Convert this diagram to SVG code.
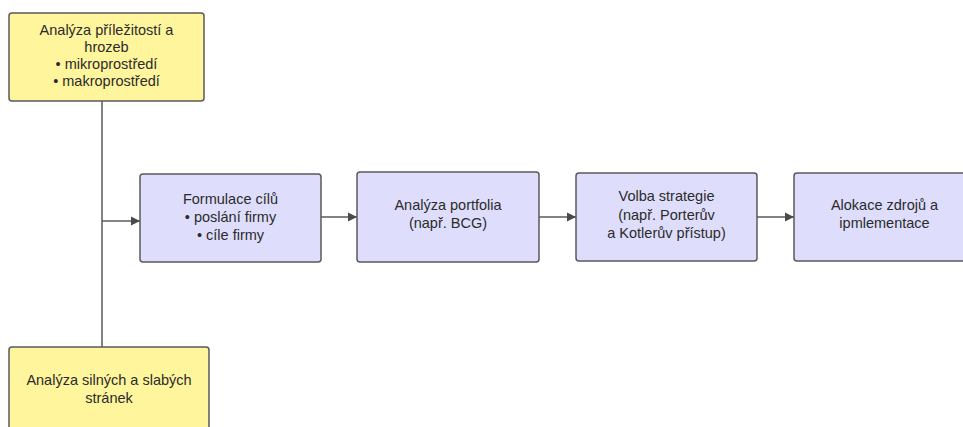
<svg xmlns="http://www.w3.org/2000/svg" width="963" height="427" viewBox="0 0 963 427">
<defs>
<style>
.y{fill:#fff59d;stroke:#5a5a5a;stroke-width:1.5}
.b{fill:#dedefc;stroke:#5a5a5a;stroke-width:1.5}
text{font-family:"Liberation Sans",Arial,sans-serif;font-size:14.5px;fill:#2b2b2b;text-anchor:middle}
.c{stroke:#5a5a5a;stroke-width:1.5;fill:none}
</style>
<marker id="ah" markerWidth="10" markerHeight="10" refX="9" refY="5" orient="auto" markerUnits="userSpaceOnUse">
<path d="M0,0.5 L9,5 L0,9.5 Z" fill="#4a4a4a"/>
</marker>
</defs>
<rect width="963" height="427" fill="#ffffff"/>
<g id="connectors">
<line class="c" x1="102" y1="101" x2="102" y2="347"/>
<line class="c" x1="102" y1="221" x2="140" y2="221" marker-end="url(#ah)"/>
<line class="c" x1="321" y1="217" x2="357" y2="217" marker-end="url(#ah)"/>
<line class="c" x1="539" y1="217" x2="576" y2="217" marker-end="url(#ah)"/>
<line class="c" x1="757" y1="217" x2="794" y2="217" marker-end="url(#ah)"/>
</g>
<g id="n1">
<rect class="y" x="9" y="13" width="195" height="88" rx="3"/>
<text x="106.5" y="35">Analýza příležitostí a</text>
<text x="106.5" y="52">hrozeb</text>
<text x="106.5" y="69">• mikroprostředí</text>
<text x="106.5" y="86">• makroprostředí</text>
</g>
<g id="n2">
<rect class="y" x="9" y="347" width="200" height="100" rx="3"/>
<text x="109" y="385">Analýza silných a slabých</text>
<text x="109" y="403">stránek</text>
</g>
<g id="n3">
<rect class="b" x="140" y="174" width="181" height="88" rx="3"/>
<text x="230.5" y="204">Formulace cílů</text>
<text x="230.5" y="222">• poslání firmy</text>
<text x="230.5" y="240">• cíle firmy</text>
</g>
<g id="n4">
<rect class="b" x="357" y="172" width="182" height="90" rx="3"/>
<text x="448" y="210">Analýza portfolia</text>
<text x="448" y="228">(např. BCG)</text>
</g>
<g id="n5">
<rect class="b" x="576" y="173" width="181" height="88" rx="3"/>
<text x="666.5" y="201">Volba strategie</text>
<text x="666.5" y="220">(např. Porterův</text>
<text x="666.5" y="238">a Kotlerův přístup)</text>
</g>
<g id="n6">
<rect class="b" x="794" y="173" width="181" height="88" rx="3"/>
<text x="884.5" y="210">Alokace zdrojů a</text>
<text x="884.5" y="228">ipmlementace</text>
</g>
</svg>
